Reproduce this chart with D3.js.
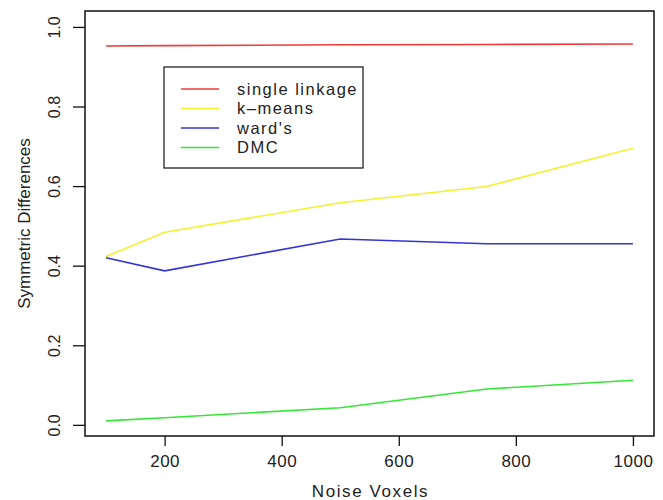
<!DOCTYPE html>
<html>
<head>
<meta charset="utf-8">
<script src="https://cdn.jsdelivr.net/npm/d3@7"></script>
<style>
  body { margin: 0; background: #fff; }
  svg text { font-family: "Liberation Sans", Arial, sans-serif; fill: #222; }
</style>
</head>
<body>
<svg id="chart" width="663" height="500"></svg>
<script>
// data
var noiseVoxels = [100, 200, 500, 750, 1000];
var seriesNames = ["single linkage", "k-means", "ward's", "DMC"];
var singleLinkage = [0.952, 0.953, 0.955, 0.956, 0.957];
var kMeans = [0.423, 0.484, 0.558, 0.599, 0.695];
var wards = [0.420, 0.387, 0.467, 0.455, 0.455];
var dmc = [0.010, 0.018, 0.043, 0.090, 0.112];
var xTicks = [200, 400, 600, 800, 1000];
var yTicks = [0.0, 0.2, 0.4, 0.6, 0.8, 1.0];

var colors = ["#f03a3a", "#f2f230", "#3434d8", "#36e636"];
var seriesValues = [singleLinkage, kMeans, wards, dmc];

var svg = d3.select("#chart");

// plot box in pixels
var box = { left: 85, right: 654, top: 11, bottom: 436 };

var x = d3.scaleLinear().domain([64, 1036]).range([box.left, box.right]);
var y = d3.scaleLinear().domain([-0.028, 1.04]).range([box.bottom, box.top]);

// frame
svg.append("rect")
    .attr("x", box.left).attr("y", box.top)
    .attr("width", box.right - box.left).attr("height", box.bottom - box.top)
    .attr("fill", "none").attr("stroke", "#111").attr("stroke-width", 1.5);

// x axis
var xAxis = svg.append("g")
    .attr("transform", "translate(0," + box.bottom + ")")
    .call(d3.axisBottom(x).tickValues(xTicks).tickSize(10).tickPadding(9).tickFormat(d3.format("d")));
xAxis.select(".domain").remove();
xAxis.selectAll("line").attr("stroke", "#111").attr("stroke-width", 1.3);
xAxis.selectAll("text")
    .style("font-size", "17px").style("letter-spacing", "0.5px")
    .attr("fill", "#222");

// y axis (labels rotated like R)
var yAxis = svg.append("g")
    .attr("transform", "translate(" + box.left + ",0)")
    .call(d3.axisLeft(y).tickValues(yTicks).tickSize(12).tickFormat(d3.format(".1f")));
yAxis.select(".domain").remove();
yAxis.selectAll("line").attr("stroke", "#111").attr("stroke-width", 1.3);
yAxis.selectAll("text")
    .style("font-size", "16px")
    .attr("x", 0)
    .attr("text-anchor", "middle")
    .attr("transform", "translate(-31,0) rotate(-90)")
    .attr("dy", "0.35em");

// axis titles
svg.append("text")
    .attr("x", (box.left + box.right) / 2 + 1).attr("y", 497)
    .attr("text-anchor", "middle")
    .style("font-size", "17px").style("letter-spacing", "1.6px")
    .text("Noise Voxels");
svg.append("text")
    .attr("transform", "translate(30," + (box.top + box.bottom) / 2 + ") rotate(-90)")
    .attr("text-anchor", "middle").style("font-size", "17px")
    .text("Symmetric Differences");

// lines
var line = d3.line()
    .x(function (d, i) { return x(noiseVoxels[i]); })
    .y(function (d) { return y(d); });

svg.selectAll(".series")
    .data(seriesValues)
    .enter().append("path")
    .attr("class", "series")
    .attr("d", line)
    .attr("fill", "none")
    .attr("stroke", function (d, i) { return colors[i]; })
    .attr("stroke-width", 1.6);

// legend
var legend = svg.append("g").attr("transform", "translate(164,67)");
legend.append("rect")
    .attr("width", 199).attr("height", 101)
    .attr("fill", "#fff").attr("stroke", "#222").attr("stroke-width", 1.3);
var rows = legend.selectAll(".row")
    .data(seriesNames)
    .enter().append("g")
    .attr("class", "row")
    .attr("transform", function (d, i) { return "translate(0," + (22 + i * 19.5) + ")"; });
rows.append("line")
    .attr("x1", 17).attr("x2", 55)
    .attr("stroke", function (d, i) { return colors[i]; })
    .attr("stroke-width", 1.6);
rows.append("text")
    .attr("x", 73).attr("dy", "0.35em")
    .style("font-size", "16.5px").style("letter-spacing", "1.5px")
    .text(function (d) { return d.replace("-", "\u2013"); });
</script>
</body>
</html>
